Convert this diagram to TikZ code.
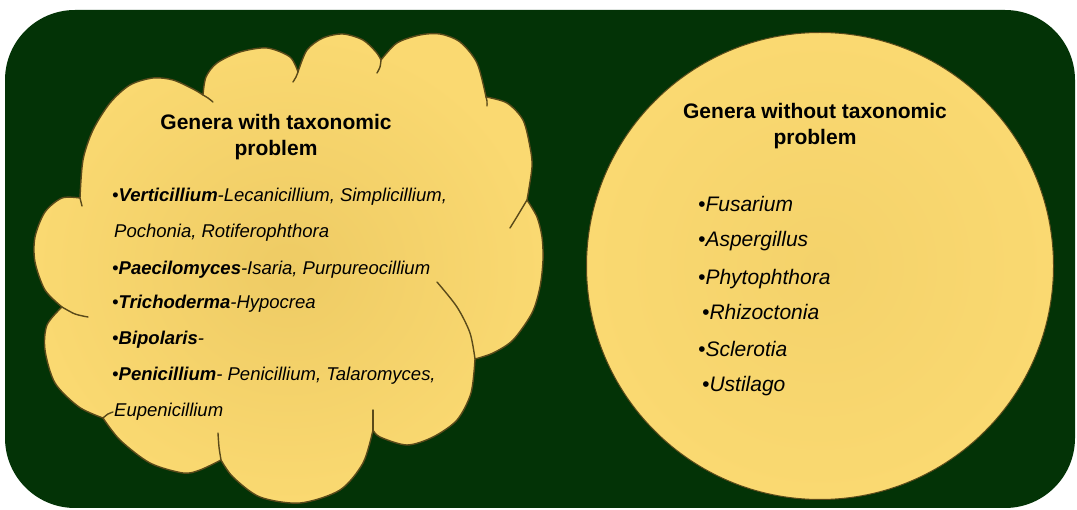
\documentclass[tikz,border=0pt]{standalone}
\usepackage{fontspec}
\setmainfont{Liberation Sans}
\usetikzlibrary{positioning}

\definecolor{panelgreen}{RGB}{3,51,6}
\definecolor{puff}{RGB}{250,217,113}
\definecolor{puffdark}{RGB}{238,203,100}
\definecolor{rim}{RGB}{90,74,26}

\begin{document}
\begin{tikzpicture}[x=1pt, y=-1pt,
  title node/.style={font=\fontsize{21}{26}\selectfont\bfseries, align=center, anchor=base, inner sep=0pt},
  item node/.style={font=\fontsize{18.5}{22}\selectfont\itshape, anchor=base west, inner sep=0pt},
  big item/.style={font=\fontsize{21}{25}\selectfont\itshape, anchor=base west, inner sep=0pt},
  rim line/.style={draw=rim, line width=1.4pt, line join=round},
  hook line/.style={draw=rim, line width=1.4pt, line cap=round}]

  \useasboundingbox (0,0) rectangle (1077,510);

  % Background panel
  \fill[panelgreen, rounded corners=70pt] (5,10) rectangle (1075,508);

  % Cloud (genera with taxonomic problem)
  \shadedraw[rim line, inner color=puffdark, outer color=puff]
    plot[smooth] coordinates {(80,198) (83,160) (93,130) (110,103) (130,85) (153,78) (173,80) (193,89) (203,95)}
    -- plot[smooth] coordinates {(203,95) (206,77) (217,63) (240,52) (267,48) (290,57) (298,72)}
    -- plot[smooth] coordinates {(298,72) (307,50) (323,38) (343,34) (363,40) (376,52) (381,60)}
    -- plot[smooth] coordinates {(381,60) (397,43) (420,35) (440,34) (460,42) (477,63) (486,97)}
    -- plot[smooth] coordinates {(486,97) (507,103) (523,120) (530,147) (532,167) (527,200)}
    -- plot[smooth] coordinates {(527,200) (537,217) (542,237) (543,260) (540,287) (532,313) (513,340) (493,353) (475,359)}
    -- plot[smooth] coordinates {(475,359) (471,393) (457,420) (433,437) (407,445) (380,437) (373,430)}
    -- plot[smooth] coordinates {(373,430) (363,463) (340,490) (300,503) (260,497) (233,477) (221,460)}
    -- plot[smooth] coordinates {(221,460) (200,470) (183,473) (150,463) (120,440) (103,418)}
    -- plot[smooth] coordinates {(103,418) (79,407) (55,383) (45,350) (47,325) (62,307)}
    -- plot[smooth] coordinates {(62,307) (45,290) (35,262) (35,237) (45,212) (62,198) (80,198)}
    -- cycle;

  % inner arcs of the puffs
  \draw[hook line] plot[smooth] coordinates {(80,198) (81,202) (82,206)};
  \draw[hook line] plot[smooth] coordinates {(203,95) (208,98) (213,102)};
  \draw[hook line] plot[smooth] coordinates {(298,72) (296,77) (293,82)};
  \draw[hook line] plot[smooth] coordinates {(381,60) (380,67) (377,73)};
  \draw[hook line] plot[smooth] coordinates {(486,97) (487,101) (487,106)};
  \draw[hook line] plot[smooth] coordinates {(527,200) (518,215) (510,228)};
  \draw[hook line] plot[smooth] coordinates {(475,359) (470,333) (457,307) (437,282)};
  \draw[hook line] plot[smooth] coordinates {(373,430) (373,420) (373,410)};
  \draw[hook line] plot[smooth] coordinates {(221,460) (219,447) (218,433)};
  \draw[hook line] plot[smooth] coordinates {(103,418) (108,414) (113,412)};
  \draw[hook line] plot[smooth] coordinates {(62,307) (75,314) (88,317)};

  % Circle (genera without taxonomic problem)
  \node[circle, minimum size=467pt, inner sep=0pt, draw=rim, line width=1pt,
        inner color=puffdark!50!puff, outer color=puff] (nocircle) at (820,266) {};

  % Left texts
  \node[title node] (lefttitle) at (276,156) {Genera with taxonomic\\problem};
  \node[item node] (verti) at (112,202) {•\textbf{Verticillium}-Lecanicillium, Simplicillium,};
  \node[item node] (verti2) at (114,238) {Pochonia, Rotiferophthora};
  \node[item node] (paeci) at (112,275) {•\textbf{Paecilomyces}-Isaria, Purpureocillium};
  \node[item node] (tricho) at (112,309) {•\textbf{Trichoderma}-Hypocrea};
  \node[item node] (bipo) at (112,345) {•\textbf{Bipolaris}-};
  \node[item node] (penic) at (112,381) {•\textbf{Penicillium}- Penicillium, Talaromyces,};
  \node[item node] (penic2) at (114,417) {Eupenicillium};

  % Right texts
  \node[title node] (righttitle) at (815,145) {Genera without taxonomic\\problem};
  \node[big item] (fusa) at (698,212) {•Fusarium};
  \node[big item] (asper) at (698,247) {•Aspergillus};
  \node[big item] (phyto) at (698,285) {•Phytophthora};
  \node[big item] (rhizo) at (702,320) {•Rhizoctonia};
  \node[big item] (sclero) at (698,357) {•Sclerotia};
  \node[big item] (ustil) at (702,392) {•Ustilago};
\end{tikzpicture}
\end{document}
